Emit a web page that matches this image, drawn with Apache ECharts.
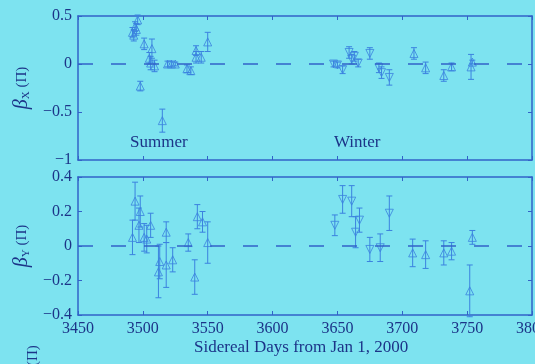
<!DOCTYPE html>
<html><head><meta charset="utf-8">
<script src="https://cdn.jsdelivr.net/npm/echarts@6/dist/echarts.min.js"></script>
<style>html,body{margin:0;padding:0;background:#7de3f0;}#c{width:535px;height:364px;}</style>
</head><body><div id="c"></div>
<script>
// ---- Data (βX panel) ----
const bxUpDays = [3492,3494,3493,3496,3495,3498,3501,3507,3505,3506,3509,3515,3519,3522,3525,3534,3537,3541,3541,3545,3550,3709,3718,3732,3738,3753,3754];
const bxUpVals = [0.33,0.39,0.30,0.46,0.36,-0.23,0.21,0.16,0.06,0.01,-0.02,-0.59,0.0,0.0,0.0,-0.05,-0.07,0.07,0.14,0.07,0.23,0.11,-0.04,-0.12,-0.03,-0.03,0.02];
const bxUpErr  = [0.05,0.05,0.06,0.05,0.06,0.05,0.06,0.10,0.06,0.07,0.06,0.12,0.03,0.03,0.02,0.04,0.04,0.06,0.05,0.06,0.10,0.06,0.06,0.06,0.04,0.13,0.02];
const bxDnDays = [3647,3650,3654,3659,3661,3663,3666,3675,3682,3684,3690];
const bxDnVals = [0.0,-0.01,-0.06,0.12,0.05,0.08,0.01,0.11,-0.04,-0.09,-0.14];
const bxDnErr  = [0.03,0.03,0.04,0.06,0.05,0.05,0.04,0.06,0.05,0.06,0.08];
// ---- Data (βY panel) ----
const byUpDays = [3494,3492,3498,3497,3501,3503,3506,3512,3513,3518,3518,3523,3535,3540,3542,3546,3550,3708,3718,3732,3738,3754,3752];
const byUpVals = [0.26,0.05,0.20,0.12,0.05,0.04,0.12,-0.15,-0.09,0.08,-0.11,-0.08,0.02,-0.18,0.17,0.14,0.02,-0.04,-0.05,-0.04,-0.03,0.05,-0.26];
const byUpErr  = [0.11,0.10,0.09,0.10,0.08,0.08,0.07,0.15,0.10,0.06,0.13,0.07,0.05,0.10,0.07,0.06,0.12,0.08,0.08,0.07,0.05,0.04,0.15];
const byDnDays = [3648,3654,3661,3664,3667,3675,3683,3690];
const byDnVals = [0.12,0.27,0.26,0.08,0.15,-0.02,-0.01,0.19];
const byDnErr  = [0.06,0.08,0.09,0.09,0.07,0.07,0.08,0.10];
// ---- Axis ticks ----
const xTicks = [3450,3500,3550,3600,3650,3700,3750,3800];
const bxTicks = [-1,-0.5,0,0.5];
const byTicks = [-0.4,-0.2,0,0.2,0.4];

const NAVY = '#1c3488';
const AX = '#3263c8';
const MK = '#3b82df';
const FONT = '"Liberation Serif","DejaVu Serif",serif';

function zip(a,b,c){return a.map((v,i)=>[v,b[i],c[i]]);}
function fmt(v){return String(v).replace('-','\u2212');}

function errSeries(data, xi, yi){
  return {type:'custom', xAxisIndex:xi, yAxisIndex:yi, data:data, silent:true, z:3,
    renderItem:function(params, api){
      const x=api.value(0), y=api.value(1), e=api.value(2);
      const t=api.coord([x,y+e]), b=api.coord([x,y-e]);
      const st={stroke:MK, lineWidth:1};
      return {type:'group', children:[
        {type:'line', shape:{x1:t[0],y1:t[1],x2:b[0],y2:b[1]}, style:st},
        {type:'line', shape:{x1:t[0]-3,y1:t[1],x2:t[0]+3,y2:t[1]}, style:st},
        {type:'line', shape:{x1:b[0]-3,y1:b[1],x2:b[0]+3,y2:b[1]}, style:st}
      ]};
    }};
}
function markSeries(data, xi, yi, down, withZero){
  const s = {type:'scatter', xAxisIndex:xi, yAxisIndex:yi, data:data.map(d=>[d[0],d[1]]),
    symbol:'triangle', symbolSize:8, symbolRotate: down?180:0, silent:true, z:4,
    itemStyle:{color:'rgba(0,0,0,0)', borderColor:MK, borderWidth:1}};
  if(withZero){
    s.markLine = {silent:true, symbol:'none', label:{show:false},
      lineStyle:{color:AX, type:[15,18], width:1.5}, data:[{yAxis:0}]};
  }
  return s;
}

function xAx(gi, pos, labels){
  return {type:'value', gridIndex:gi, position:pos, min:3450, max:3800, interval:50,
    axisLine:{show:true, onZero:false, lineStyle:{color:AX, width:1.5}},
    axisTick:{show:true, inside:true, length:4, lineStyle:{color:AX}},
    axisLabel:{show:labels, color:NAVY, fontFamily:FONT, fontSize:16, margin:6, formatter:v=>String(v)},
    splitLine:{show:false}};
}
function yAx(gi, pos, min, max, interval, labels, nameRich){
  const a = {type:'value', gridIndex:gi, position:pos, min:min, max:max, interval:interval,
    axisLine:{show:true, onZero:false, lineStyle:{color:AX, width:1.5}},
    axisTick:{show:true, inside:true, length:4, lineStyle:{color:AX}},
    axisLabel:{show:labels, color:NAVY, fontFamily:FONT, fontSize:16, margin:6, formatter:fmt},
    splitLine:{show:false}};
  if(nameRich){
    a.name = nameRich; a.nameLocation='middle'; a.nameGap=42; a.nameRotate=90;
    a.nameTextStyle = {color:NAVY, fontFamily:FONT, rich:{
      b:{fontSize:20, fontStyle:'italic', color:NAVY, fontFamily:FONT},
      s:{fontSize:11, color:NAVY, fontFamily:FONT, verticalAlign:'bottom', padding:[8,0,0,0]},
      p:{fontSize:15, color:NAVY, fontFamily:FONT}}};
  }
  return a;
}

const chart = echarts.init(document.getElementById('c'), null, {renderer:'canvas'});
chart.setOption({
  backgroundColor:'#7de3f0',
  animation:false,
  grid:[{left:78, right:3, top:16, height:144, outerBoundsMode:'none', containLabel:false},
        {left:78, right:3, top:177, height:138, outerBoundsMode:'none', containLabel:false}],
  xAxis:[xAx(0,'bottom',false), xAx(0,'top',false), xAx(1,'bottom',true), xAx(1,'top',false)],
  yAxis:[
    yAx(0,'left',-1,0.5,0.5,true,'{b|β}{s|X}{p| (Π)}'), yAx(0,'right',-1,0.5,0.5,false,null),
    yAx(1,'left',-0.4,0.4,0.2,true,'{b|β}{s|Y}{p| (Π)}'), yAx(1,'right',-0.4,0.4,0.2,false,null)
  ],
  series:[
    errSeries(zip(bxUpDays,bxUpVals,bxUpErr),0,0),
    errSeries(zip(bxDnDays,bxDnVals,bxDnErr),0,0),
    markSeries(zip(bxUpDays,bxUpVals,bxUpErr),0,0,false,true),
    markSeries(zip(bxDnDays,bxDnVals,bxDnErr),0,0,true,false),
    errSeries(zip(byUpDays,byUpVals,byUpErr),2,2),
    errSeries(zip(byDnDays,byDnVals,byDnErr),2,2),
    markSeries(zip(byUpDays,byUpVals,byUpErr),2,2,false,true),
    markSeries(zip(byDnDays,byDnVals,byDnErr),2,2,true,false)
  ],
  graphic:[
    {type:'text', left:130, top:134, style:{text:'Summer', fill:NAVY, font:'17px '+FONT}},
    {type:'text', left:334, top:134, style:{text:'Winter', fill:NAVY, font:'17px '+FONT}},
    {type:'text', left:194, top:339, style:{text:'Sidereal Days from Jan 1, 2000', fill:NAVY, font:'17px '+FONT}},
    {type:'text', x:26, y:366, rotation:Math.PI/2, style:{text:'(Π)', fill:NAVY, font:'15px '+FONT}}
  ]
});
</script></body></html>
